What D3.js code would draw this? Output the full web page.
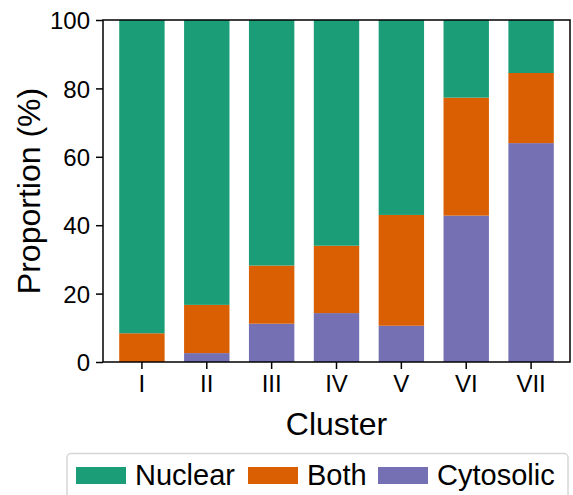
<!DOCTYPE html>
<html>
<head>
<meta charset="utf-8">
<script src="https://cdn.jsdelivr.net/npm/d3@7"></script>
<style>
  body { margin: 0; background: #fff; }
  svg { display: block; font-family: "Liberation Sans", Arial, Helvetica, sans-serif; }
</style>
</head>
<body>
<svg width="573" height="495"></svg>
<script>
var clusters = ['I', 'II', 'III', 'IV', 'V', 'VI', 'VII'];
var cytosolic = [0, 2.6, 11.2, 14.3, 10.6, 42.8, 64.0];
var both = [8.4, 14.1, 17.0, 19.7, 32.4, 34.5, 20.5];
var nuclear = [91.6, 83.3, 71.8, 66.0, 57.0, 22.7, 15.5];
var yTicks = [0, 20, 40, 60, 80, 100];

var keys = ['Cytosolic', 'Both', 'Nuclear'];
var colors = { Nuclear: '#1b9e77', Both: '#d95f02', Cytosolic: '#7570b3' };
var legendOrder = ['Nuclear', 'Both', 'Cytosolic'];

var rows = clusters.map(function (c, i) {
  return { cluster: c, Cytosolic: cytosolic[i], Both: both[i], Nuclear: nuclear[i] };
});

var svg = d3.select('svg');
var plotL = 103, plotR = 570, plotT = 20, plotB = 362;

var x = d3.scaleBand().domain(clusters).range([plotL, plotR]).paddingInner(0.3).paddingOuter(0.25);
var y = d3.scaleLinear().domain([0, 100]).range([plotB, plotT]);

var series = d3.stack().keys(keys)(rows);

svg.append('g').selectAll('g')
  .data(series).enter().append('g')
  .attr('fill', function (d) { return colors[d.key]; })
  .selectAll('rect')
  .data(function (d) { return d; }).enter().append('rect')
  .attr('x', function (d) { return x(d.data.cluster); })
  .attr('width', x.bandwidth())
  .attr('y', function (d) { return y(d[1]); })
  .attr('height', function (d) { return y(d[0]) - y(d[1]); });

// frame
svg.append('rect').attr('x', plotL).attr('y', plotT)
  .attr('width', plotR - plotL).attr('height', plotB - plotT)
  .attr('fill', 'none').attr('stroke', '#000').attr('stroke-width', 1.5);

var xAxis = svg.append('g').attr('transform', 'translate(0,' + plotB + ')')
  .call(d3.axisBottom(x).tickSize(7).tickPadding(6).tickSizeOuter(0));
var yAxis = svg.append('g').attr('transform', 'translate(' + plotL + ',0)')
  .call(d3.axisLeft(y).tickValues(yTicks).tickSize(7).tickPadding(6).tickSizeOuter(0));

[xAxis, yAxis].forEach(function (a) {
  a.select('.domain').remove();
  a.selectAll('line').attr('stroke', '#000').attr('stroke-width', 1.5);
  a.selectAll('text').attr('fill', '#000').style('font-size', '24px')
    .style('font-family', '"Liberation Sans", Arial, Helvetica, sans-serif');
});
yAxis.selectAll('text').attr('dy', '0.36em');

svg.append('text').attr('x', (plotL + plotR) / 2).attr('y', 435)
  .attr('text-anchor', 'middle').style('font-size', '32px').text('Cluster');

svg.append('text')
  .attr('transform', 'translate(40,' + (plotT + plotB) / 2 + ') rotate(-90)')
  .attr('text-anchor', 'middle').style('font-size', '32px').text('Proportion (%)');

// legend
var lg = svg.append('g');
lg.append('rect').attr('x', 67).attr('y', 453.5).attr('width', 501).attr('height', 60)
  .attr('rx', 4).attr('fill', '#fff').attr('stroke', '#d6d6d6').attr('stroke-width', 1.5);
var lx = [76, 248, 378];
legendOrder.forEach(function (k, i) {
  lg.append('rect').attr('x', lx[i]).attr('y', 467).attr('width', 50).attr('height', 17)
    .attr('fill', colors[k]);
  lg.append('text').attr('x', lx[i] + 59).attr('y', 485)
    .style('font-size', '29px').text(k);
});
</script>
</body>
</html>
